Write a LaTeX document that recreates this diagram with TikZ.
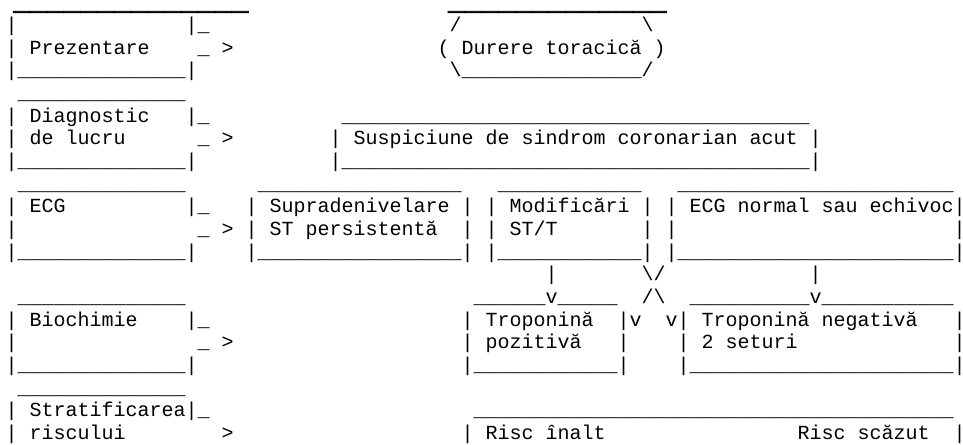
\documentclass[tikz,border=0pt]{standalone}
\usepackage{fontspec}
\newfontfamily\asciifont{Liberation Mono}
\newfontfamily\rulefont[FakeBold=3]{Liberation Mono}
\frenchspacing
\newcommand{\us}[1]{\foreach\k in {1,...,#1}{\_}}
% one piece of text at column #1 of row #2
\newcommand{\txt}[3]{\node[asc] (r#2c#1) at ({5.7+12*#1},{9+22.66*#2}) {#3};}
\tikzset{
  asc/.style={inner sep=0pt, outer sep=0pt, anchor=base west,
              font=\asciifont\fontsize{15pt}{17pt}\selectfont},
  hdr/.style={asc, font=\rulefont\fontsize{21pt}{24pt}\selectfont},
}
\begin{document}
\begin{tikzpicture}[x=0.75pt,y=-0.75pt]
  \useasboundingbox (0,0) rectangle (963,445);
  %% top rules
  \node[hdr] (top1) at (13.3,9.6) {\us{14}};
  \node[hdr] (top2) at (448,9.6) {\us{13}};
  %% Prezentare
  \txt{0}{1}{|}
  \txt{15}{1}{|\_}
  \txt{37}{1}{/}
  \txt{53}{1}{\textbackslash}
  \txt{0}{2}{| Prezentare}
  \txt{16}{2}{\_ >}
  \txt{36}{2}{( Durere toracică )}
  \txt{0}{3}{|\us{14}|}
  \txt{37}{3}{\textbackslash\us{15}/}
  %% Diagnostic de lucru
  \txt{1}{4}{\us{14}}
  \txt{0}{5}{| Diagnostic}
  \txt{15}{5}{|\_}
  \txt{28}{5}{\us{39}}
  \txt{0}{6}{| de lucru}
  \txt{16}{6}{\_ >}
  \txt{27}{6}{| Suspiciune de sindrom coronarian acut |}
  \txt{0}{7}{|\us{14}|}
  \txt{27}{7}{|\us{39}|}
  %% ECG
  \txt{1}{8}{\us{14}}
  \txt{21}{8}{\us{17}}
  \txt{41}{8}{\us{12}}
  \txt{56}{8}{\us{23}}
  \txt{0}{9}{| ECG}
  \txt{15}{9}{|\_}
  \txt{20}{9}{| Supradenivelare |}
  \txt{40}{9}{| Modificări |}
  \txt{55}{9}{| ECG normal sau echivoc|}
  \txt{0}{10}{|}
  \txt{16}{10}{\_ >}
  \txt{20}{10}{| ST persistentă}
  \txt{38}{10}{|}
  \txt{40}{10}{| ST/T}
  \txt{53}{10}{|}
  \txt{55}{10}{|}
  \txt{79}{10}{|}
  \txt{0}{11}{|\us{14}|}
  \txt{20}{11}{|\us{17}|}
  \txt{40}{11}{|\us{12}|}
  \txt{55}{11}{|\us{23}|}
  \txt{45}{12}{|}
  \txt{53}{12}{\textbackslash/}
  \txt{67}{12}{|}
  %% Biochimie
  \txt{1}{13}{\us{14}}
  \txt{39}{13}{\us{6}v\us{5}}
  \txt{53}{13}{/\textbackslash}
  \txt{57}{13}{\us{10}v\us{11}}
  \txt{0}{14}{| Biochimie}
  \txt{15}{14}{|\_}
  \txt{38}{14}{| Troponină}
  \txt{51}{14}{|v}
  \txt{55}{14}{v| Troponină negativă}
  \txt{79}{14}{|}
  \txt{0}{15}{|}
  \txt{16}{15}{\_ >}
  \txt{38}{15}{| pozitivă}
  \txt{51}{15}{|}
  \txt{56}{15}{| 2 seturi}
  \txt{79}{15}{|}
  \txt{0}{16}{|\us{14}|}
  \txt{38}{16}{|\us{12}|}
  \txt{56}{16}{|\us{22}|}
  %% Stratificarea riscului
  \txt{1}{17}{\us{14}}
  \txt{0}{18}{| Stratificarea|\_}
  \txt{39}{18}{\us{40}}
  \txt{0}{19}{| riscului}
  \txt{18}{19}{>}
  \txt{38}{19}{| Risc înalt}
  \txt{66}{19}{Risc scăzut}
  \txt{79}{19}{|}
\end{tikzpicture}
\end{document}
